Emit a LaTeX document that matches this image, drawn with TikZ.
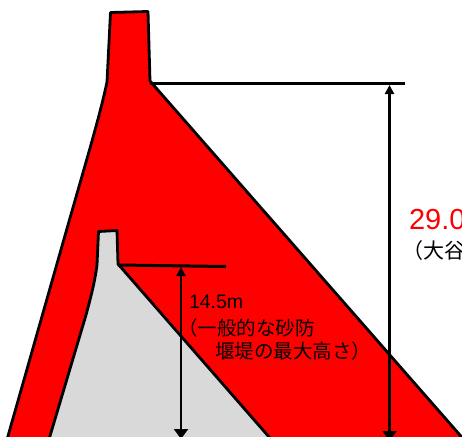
\documentclass[tikz,border=0pt]{standalone}
\usepackage{fontspec}
\setmainfont{Liberation Sans}
\newfontfamily\cjkf{Noto Sans CJK JP}
\usetikzlibrary{arrows.meta}
\tikzset{
  damline/.style={draw=black,line width=2.8pt,line join=round},
  dimline/.style={draw=black,line width=2.2pt,{Triangle[length=9pt,width=9pt]}-{Triangle[length=10pt,width=14pt]}},
  refline/.style={draw=black,line width=3pt},
  lab/.style={anchor=base west,inner sep=0pt,outer sep=0pt,font=\cjkf\fontsize{19.5}{19.5}\selectfont}
}
\begin{document}
\begin{tikzpicture}[x=1pt,y=-1pt]
\useasboundingbox (0,0) rectangle (462,436);
\clip (0,0) rectangle (462,436);
\fill[white] (0,0) rectangle (462,436);
% large dam
\path[damline,fill=red] (110.5,12.5) -- (148,11.5) -- (150,81) -- (480,458) -- (2,458)
  -- (8,436) -- (70,218) .. controls (88,155) and (100,115) .. (107,82) -- cycle;
% small dam
\path[damline,fill=black!15] (98.5,231.5) -- (117,230.5) -- (118,264) -- (290,461) -- (43,461)
  -- (50,436) -- (86,315) .. controls (92,293) and (95,280) .. (97,265) -- cycle;
% reference lines
\coordinate (topa) at (150,83.5);
\coordinate (topb) at (405,83.5);
\coordinate (lowa) at (118,265);
\coordinate (lowb) at (226,266.5);
\draw[refline] (topa) -- (topb);
\draw[refline] (lowa) -- (lowb);
% dimension arrows
\coordinate (d1a) at (389.5,85);
\coordinate (d1b) at (389.5,441);
\coordinate (d2a) at (181,267);
\coordinate (d2b) at (181,439);
\draw[dimline] (d1a) -- (d1b);
\draw[dimline] (d2a) -- (d2b);
% labels
\node[lab,text=red,font=\fontsize{29}{29}\selectfont] (h1) at (409,229) {29.0};
\node[lab,font=\cjkf\fontsize{21}{21}\selectfont] (h1b) at (402,258) {（大谷};
\node[lab,font=\fontsize{19.5}{19.5}\selectfont] (h2) at (189,308) {14.5m};
\node[lab] (h2b) at (178,335) {（一般的な砂防};
\node[lab] (h2c) at (215,358.5) {堰堤の最大高さ）};
\end{tikzpicture}
\end{document}
